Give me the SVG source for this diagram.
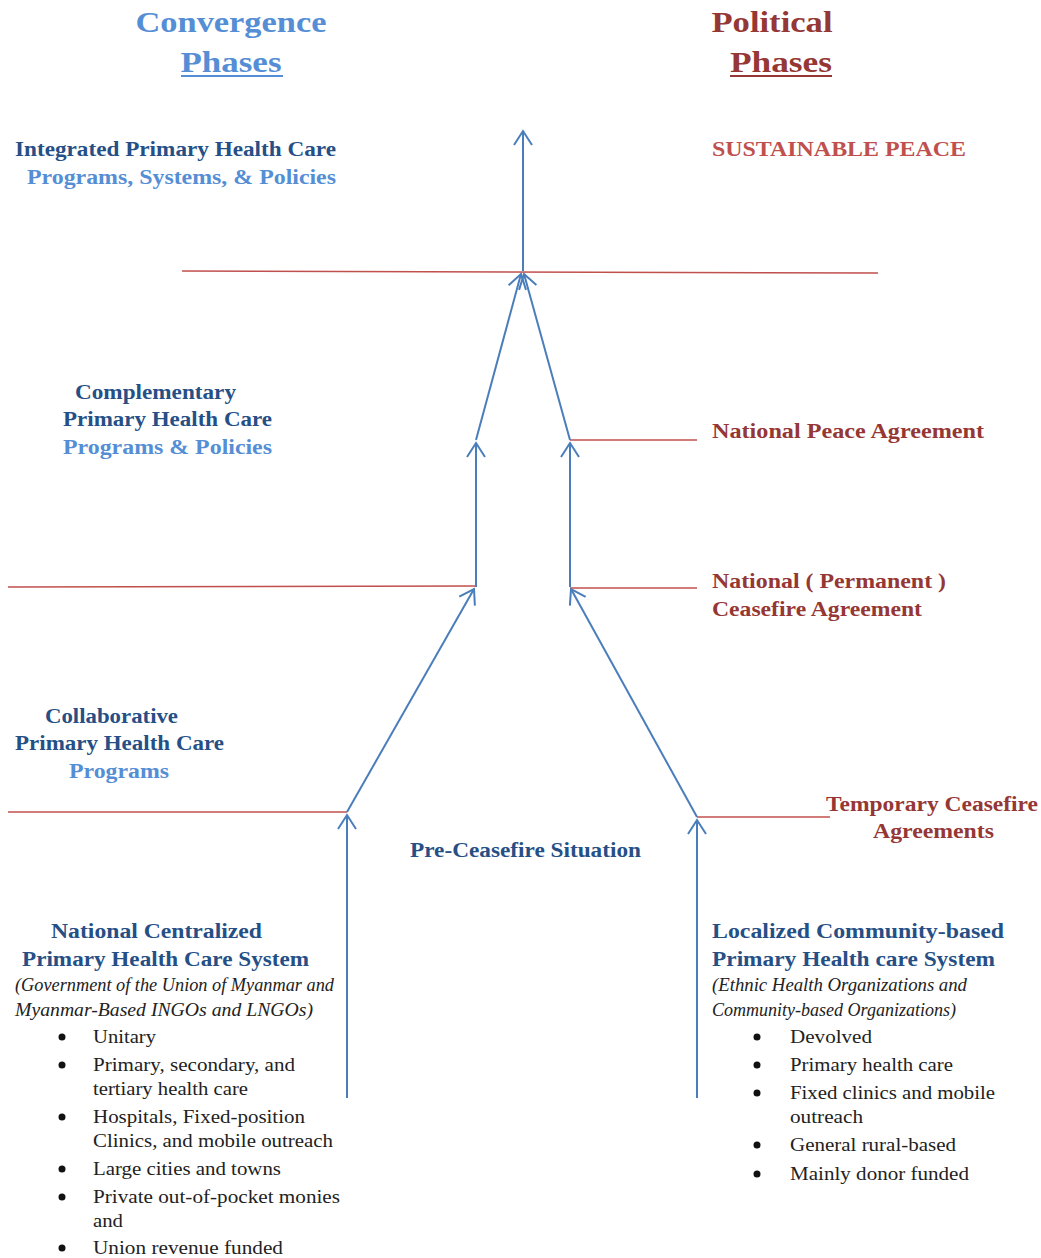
<svg xmlns="http://www.w3.org/2000/svg" width="1041" height="1258" viewBox="0 0 1041 1258">
<style>
text{font-family:"Liberation Serif","Times New Roman",serif}
.h{font-size:30px;font-weight:bold}
.b{font-size:20px;font-weight:bold}
.dk{fill:#264f86}
.lt{fill:#558ed5}
.dr{fill:#953735}
.rd{fill:#c0504d}
.it{font-size:18px;font-style:italic;fill:#222}
.li{font-size:19px;fill:#222}
.bl{stroke:#4a7ebb;stroke-width:2;fill:none}
.red{stroke:#c0504d;stroke-width:1.5;fill:none}
</style>
<defs>
<marker id="ah" markerWidth="24" markerHeight="24" refX="15" refY="12" orient="auto" markerUnits="userSpaceOnUse">
<path d="M1,3 L15,12 L1,21" stroke="#4a7ebb" stroke-width="2" fill="none"/>
</marker>
</defs>
<g id="headers">
<text class="h lt" x="231" y="32" text-anchor="middle" textLength="191" lengthAdjust="spacingAndGlyphs">Convergence</text>
<text class="h lt" x="231" y="72" text-anchor="middle" textLength="101" lengthAdjust="spacingAndGlyphs">Phases</text>
<line x1="181" y1="76" x2="283" y2="76" stroke="#558ed5" stroke-width="2"/>
<text class="h dr" x="772" y="32" text-anchor="middle" textLength="121" lengthAdjust="spacingAndGlyphs">Political</text>
<text class="h dr" x="781" y="72" text-anchor="middle" textLength="102" lengthAdjust="spacingAndGlyphs">Phases</text>
<line x1="730" y1="76" x2="832" y2="76" stroke="#953735" stroke-width="2"/>
</g>
<g id="connectors">
<line class="red" x1="182" y1="271" x2="878" y2="273"/>
<line class="red" x1="570" y1="440" x2="697" y2="440"/>
<line class="red" x1="8" y1="587" x2="476" y2="586"/>
<line class="red" x1="570" y1="588" x2="697" y2="588"/>
<line class="red" x1="8" y1="812" x2="347" y2="812"/>
<line class="red" x1="697" y1="817" x2="830" y2="817"/>
<line class="bl" x1="523" y1="271" x2="523" y2="131" marker-end="url(#ah)"/>
<line class="bl" x1="476" y1="440" x2="521" y2="274" marker-end="url(#ah)"/>
<line class="bl" x1="570" y1="440" x2="524" y2="274" marker-end="url(#ah)"/>
<line class="bl" x1="476" y1="587" x2="476" y2="443" marker-end="url(#ah)"/>
<line class="bl" x1="570" y1="587" x2="570" y2="443" marker-end="url(#ah)"/>
<line class="bl" x1="347" y1="812" x2="474" y2="589" marker-end="url(#ah)"/>
<line class="bl" x1="697" y1="817" x2="571" y2="589" marker-end="url(#ah)"/>
<line class="bl" x1="347" y1="1098" x2="347" y2="815" marker-end="url(#ah)"/>
<line class="bl" x1="697" y1="1098" x2="697" y2="820" marker-end="url(#ah)"/>
</g>
<g id="integrated">
<text class="b dk" x="15" y="156" textLength="321" lengthAdjust="spacingAndGlyphs">Integrated Primary Health Care</text>
<text class="b lt" x="27" y="184" textLength="309" lengthAdjust="spacingAndGlyphs">Programs, Systems, &amp; Policies</text>
</g>
<g id="sustainable">
<text class="b rd" x="712" y="156" textLength="254" lengthAdjust="spacingAndGlyphs">SUSTAINABLE PEACE</text>
</g>
<g id="complementary">
<text class="b dk" x="75" y="399" textLength="161" lengthAdjust="spacingAndGlyphs">Complementary</text>
<text class="b dk" x="63" y="426" textLength="209" lengthAdjust="spacingAndGlyphs">Primary Health Care</text>
<text class="b lt" x="63" y="454" textLength="209" lengthAdjust="spacingAndGlyphs">Programs &amp; Policies</text>
</g>
<g id="peace-agreement">
<text class="b dr" x="712" y="438" textLength="272" lengthAdjust="spacingAndGlyphs">National Peace Agreement</text>
</g>
<g id="permanent-ceasefire">
<text class="b dr" x="712" y="588" textLength="234" lengthAdjust="spacingAndGlyphs">National ( Permanent )</text>
<text class="b dr" x="712" y="616" textLength="210" lengthAdjust="spacingAndGlyphs">Ceasefire Agreement</text>
</g>
<g id="collaborative">
<text class="b dk" x="45" y="723" textLength="133" lengthAdjust="spacingAndGlyphs">Collaborative</text>
<text class="b dk" x="15" y="750" textLength="209" lengthAdjust="spacingAndGlyphs">Primary Health Care</text>
<text class="b lt" x="69" y="778" textLength="100" lengthAdjust="spacingAndGlyphs">Programs</text>
</g>
<g id="temporary-ceasefire">
<text class="b dr" x="826" y="811" textLength="212" lengthAdjust="spacingAndGlyphs">Temporary Ceasefire</text>
<text class="b dr" x="873" y="838" textLength="121" lengthAdjust="spacingAndGlyphs">Agreements</text>
</g>
<g id="pre-ceasefire">
<text class="b dk" x="410" y="857" textLength="231" lengthAdjust="spacingAndGlyphs">Pre-Ceasefire Situation</text>
</g>
<g id="national-system">
<text class="b dk" x="51" y="938" textLength="211" lengthAdjust="spacingAndGlyphs">National Centralized</text>
<text class="b dk" x="22" y="966" textLength="287" lengthAdjust="spacingAndGlyphs">Primary Health Care System</text>
<text class="it" x="15" y="991" textLength="319" lengthAdjust="spacingAndGlyphs">(Government of the Union of Myanmar and</text>
<text class="it" x="15" y="1016" textLength="298" lengthAdjust="spacingAndGlyphs">Myanmar-Based INGOs and LNGOs)</text>
<circle cx="62" cy="1037" r="3.5" fill="#111"/><text class="li" x="93" y="1043" textLength="63" lengthAdjust="spacingAndGlyphs">Unitary</text>
<circle cx="62" cy="1065" r="3.5" fill="#111"/><text class="li" x="93" y="1071" textLength="202" lengthAdjust="spacingAndGlyphs">Primary, secondary, and</text>
<text class="li" x="93" y="1095" textLength="155" lengthAdjust="spacingAndGlyphs">tertiary health care</text>
<circle cx="62" cy="1117" r="3.5" fill="#111"/><text class="li" x="93" y="1123" textLength="212" lengthAdjust="spacingAndGlyphs">Hospitals, Fixed-position</text>
<text class="li" x="93" y="1147" textLength="240" lengthAdjust="spacingAndGlyphs">Clinics, and mobile outreach</text>
<circle cx="62" cy="1169" r="3.5" fill="#111"/><text class="li" x="93" y="1175" textLength="188" lengthAdjust="spacingAndGlyphs">Large cities and towns</text>
<circle cx="62" cy="1197" r="3.5" fill="#111"/><text class="li" x="93" y="1203" textLength="247" lengthAdjust="spacingAndGlyphs">Private out-of-pocket monies</text>
<text class="li" x="93" y="1227" textLength="30" lengthAdjust="spacingAndGlyphs">and</text>
<circle cx="62" cy="1248" r="3.5" fill="#111"/><text class="li" x="93" y="1254" textLength="190" lengthAdjust="spacingAndGlyphs">Union revenue funded</text>
</g>
<g id="localized-system">
<text class="b dk" x="712" y="938" textLength="292" lengthAdjust="spacingAndGlyphs">Localized Community-based</text>
<text class="b dk" x="712" y="966" textLength="283" lengthAdjust="spacingAndGlyphs">Primary Health care System</text>
<text class="it" x="712" y="991" textLength="255" lengthAdjust="spacingAndGlyphs">(Ethnic Health Organizations and</text>
<text class="it" x="712" y="1016" textLength="244" lengthAdjust="spacingAndGlyphs">Community-based Organizations)</text>
<circle cx="757" cy="1037" r="3.5" fill="#111"/><text class="li" x="790" y="1043" textLength="82" lengthAdjust="spacingAndGlyphs">Devolved</text>
<circle cx="757" cy="1065" r="3.5" fill="#111"/><text class="li" x="790" y="1071" textLength="163" lengthAdjust="spacingAndGlyphs">Primary health care</text>
<circle cx="757" cy="1093" r="3.5" fill="#111"/><text class="li" x="790" y="1099" textLength="205" lengthAdjust="spacingAndGlyphs">Fixed clinics and mobile</text>
<text class="li" x="790" y="1123" textLength="73" lengthAdjust="spacingAndGlyphs">outreach</text>
<circle cx="757" cy="1145" r="3.5" fill="#111"/><text class="li" x="790" y="1151" textLength="166" lengthAdjust="spacingAndGlyphs">General rural-based</text>
<circle cx="757" cy="1174" r="3.5" fill="#111"/><text class="li" x="790" y="1180" textLength="179" lengthAdjust="spacingAndGlyphs">Mainly donor funded</text>
</g>
</svg>
